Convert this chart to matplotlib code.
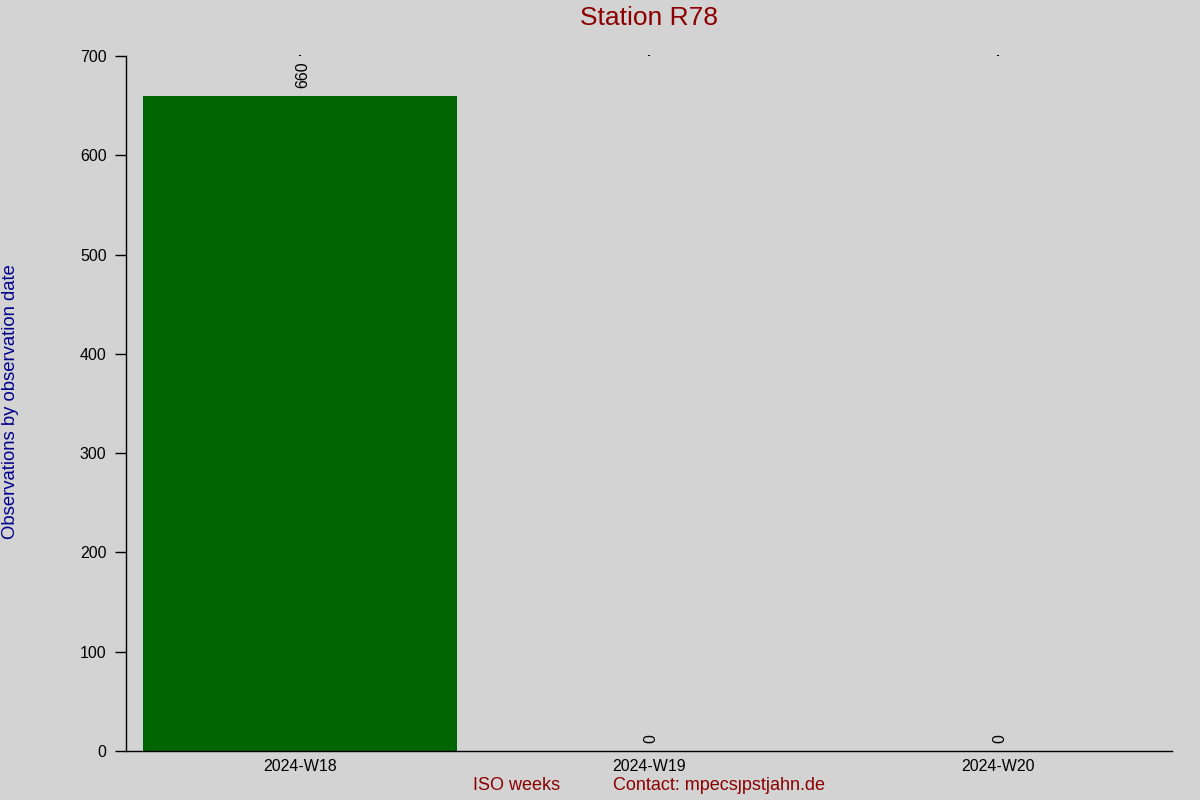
import matplotlib
matplotlib.use("Agg")
import matplotlib.pyplot as plt

plt.rcParams['font.family'] = ['Liberation Sans', 'DejaVu Sans']

weeks = ["2024-W18", "2024-W19", "2024-W20"]
counts = [660, 0, 0]
yticks = [0, 100, 200, 300, 400, 500, 600, 700]

bg = "#d3d3d3"
fig = plt.figure(figsize=(12, 8), dpi=100, facecolor=bg)
ax = fig.add_axes([126/1200, 49/800, (1172-126)/1200, (751-56)/800], facecolor=bg)

x = list(range(len(weeks)))
ax.bar(x, counts, width=0.9, color="#006400")
for xi, c in zip(x, counts):
    ax.text(xi + 0.006, c + 8, str(c), rotation=90, ha="center", va="bottom",
            fontsize=11.5, color="black")

ax.set_xlim(-0.5, 2.5)
ax.set_ylim(0, 700)
ax.set_xticks(x)
ax.set_xticklabels(weeks, fontsize=11.5)
ax.set_yticks(yticks)
ax.set_yticklabels([str(v) for v in yticks], fontsize=11.5)
ax.tick_params(axis='x', bottom=False, top=True, length=1, width=1.5, pad=5)
ax.tick_params(axis='y', length=8, width=1, pad=6)
for s in ["top", "right"]:
    ax.spines[s].set_visible(False)
ax.spines["left"].set_linewidth(1)
ax.spines["bottom"].set_linewidth(1)

fig.text(649/1200, 1 - 18/800, "Station R78", ha="center", va="center",
         fontsize=19, color="#8b0000")
fig.text(11/1200, 1 - 402/800, "Observations by observation date", rotation=90,
         ha="center", va="center", fontsize=13.3, color="#00008b")
fig.text(473/1200, 1 - 786/800, "ISO weeks", ha="left", va="center",
         fontsize=13, color="#8b0000")
fig.text(613/1200, 1 - 786/800, "Contact: mpecs\u0237pstjahn.de", ha="left", va="center",
         fontsize=13, color="#8b0000")

fig.savefig("out.png", dpi=100, facecolor=bg)
